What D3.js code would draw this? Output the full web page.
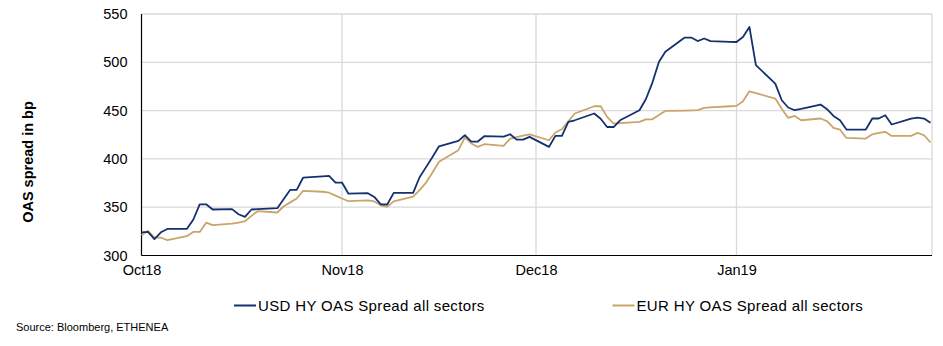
<!DOCTYPE html>
<html>
<head>
<meta charset="utf-8">
<script src="https://cdn.jsdelivr.net/npm/d3@7"></script>
<style>
  html, body { margin: 0; padding: 0; background: #fff; }
  svg { display: block; font-family: "Liberation Sans", Arial, sans-serif; }
</style>
</head>
<body>
<svg id="chart" width="943" height="346"></svg>
<script>
// ---------- data ----------
const dates = [
  "2018-10-01","2018-10-02","2018-10-03","2018-10-04","2018-10-05","2018-10-08","2018-10-09","2018-10-10","2018-10-11","2018-10-12",
  "2018-10-15","2018-10-16","2018-10-17","2018-10-18","2018-10-19","2018-10-22","2018-10-23","2018-10-24","2018-10-25","2018-10-26",
  "2018-10-29","2018-10-30","2018-10-31",
  "2018-11-01","2018-11-02","2018-11-05","2018-11-06","2018-11-07","2018-11-08","2018-11-09","2018-11-12","2018-11-13","2018-11-14",
  "2018-11-15","2018-11-16","2018-11-19","2018-11-20","2018-11-21","2018-11-22","2018-11-23","2018-11-26","2018-11-27","2018-11-28",
  "2018-11-29","2018-11-30",
  "2018-12-03","2018-12-04","2018-12-05","2018-12-06","2018-12-07","2018-12-10","2018-12-11","2018-12-12","2018-12-13","2018-12-14",
  "2018-12-17","2018-12-18","2018-12-19","2018-12-20","2018-12-21","2018-12-24","2018-12-25","2018-12-26","2018-12-27","2018-12-28",
  "2018-12-31",
  "2019-01-01","2019-01-02","2019-01-03","2019-01-04","2019-01-07","2019-01-08","2019-01-09","2019-01-10","2019-01-11","2019-01-14",
  "2019-01-15","2019-01-16","2019-01-17","2019-01-18","2019-01-21","2019-01-22","2019-01-23","2019-01-24","2019-01-25","2019-01-28",
  "2019-01-29","2019-01-30","2019-01-31"
];

const usdSpread = [
  324, 324.4, 317, 324, 327.5, 327.5, 337, 353, 353, 347.6,
  348, 342.7, 340, 347.6, 348, 349, 358.5, 368, 368, 380.7,
  382, 382.4, 375.5,
  375.5, 364, 364.5, 360.6, 353, 352.8, 364.8, 364.8, 381, 391.5,
  402, 413, 418.6, 424.5, 417.8, 418, 423.5, 423, 425.5, 420,
  420, 422.8,
  412.4, 423.8, 423.8, 438.3, 440, 447, 441.5, 433, 433, 440,
  450.4, 462, 479, 500.4, 511, 525.6, 525.6, 522, 524.6, 522,
  521.2,
  521, 526.2, 536.6, 497, 478, 460.7, 453.2, 450.4, 451.7, 456.3,
  451.4, 444.5, 440, 430.4, 430.4, 441.8, 441.8, 445.2, 435.6, 441.8,
  442.8, 441.8, 437.4
];

const eurSpread = [
  321, 325.5, 318.6, 318.6, 315.8, 320, 324.4, 324.4, 334, 331.4,
  333, 334, 335.5, 341, 346, 344.5, 351, 355, 359, 367,
  366, 365, 362,
  359, 356.2, 357, 356, 352, 350.3, 356, 361, 367.6, 375.5,
  386, 397, 409, 422, 416, 412.4, 415.2, 413.5, 421, 422.5,
  424, 425.5,
  419.3, 427.3, 430.7, 439, 447, 454.5, 454.5, 443.5, 436.6, 437,
  438.3, 441, 441, 445.5, 449.7, 450, 450.2, 450.4, 452.8, 453.3,
  454.5,
  454.9, 459.7, 470, 468, 462.5, 452, 442.4, 444.5, 440, 441.8,
  439, 432, 430.4, 421.7, 421, 425.5, 427, 428, 423.8, 423.8,
  426.9, 424.5, 417
];

const yTicks = [300, 350, 400, 450, 500, 550];
const xTicks = ["2018-10-01", "2018-11-01", "2018-12-01", "2019-01-01"];
const seriesNames = ["USD HY OAS Spread all sectors", "EUR HY OAS Spread all sectors"];
const seriesColors = ["#14306e", "#c9a46b"];
const yTitle = "OAS spread in bp";
const sourceText = "Source: Bloomberg, ETHENEA";

// ---------- layout ----------
const parse = d3.timeParse("%Y-%m-%d");
const svg = d3.select("#chart");
const plotL = 141.5, plotR = 930.5, plotT = 14, plotB = 255.5;

const x = d3.scaleTime()
  .domain([parse(dates[0]), parse(dates[dates.length - 1])])
  .range([plotL, plotR]);
const y = d3.scaleLinear().domain([300, 550]).range([plotB, plotT]);

// gridlines
const grid = svg.append("g");
grid.selectAll("line.h").data(yTicks.slice(1)).join("line")
  .attr("x1", plotL).attr("x2", plotR + 1.5)
  .attr("y1", d => y(d)).attr("y2", d => y(d))
  .attr("stroke", "#d9d9d9").attr("stroke-width", 1.3);
grid.selectAll("line.v").data(xTicks.slice(1)).join("line")
  .attr("x1", d => x(parse(d))).attr("x2", d => x(parse(d)))
  .attr("y1", plotT).attr("y2", plotB)
  .attr("stroke", "#d9d9d9").attr("stroke-width", 1.3);
grid.append("line")
  .attr("x1", plotR + 1.5).attr("x2", plotR + 1.5)
  .attr("y1", plotT).attr("y2", plotB)
  .attr("stroke", "#d9d9d9").attr("stroke-width", 1.3);

// axes
const yAxis = d3.axisLeft(y).tickValues(yTicks).tickSize(0).tickPadding(14);
const gy = svg.append("g").attr("transform", `translate(${plotL},0)`).call(yAxis);
gy.select(".domain").remove();
gy.selectAll("text").attr("font-size", 14.5).attr("fill", "#000")
  .attr("font-family", "'Liberation Sans', Arial, sans-serif");

const xAxis = d3.axisBottom(x).tickValues(xTicks.map(parse))
  .tickFormat(d3.timeFormat("%b%y")).tickSize(0).tickPadding(9);
const gx = svg.append("g").attr("transform", `translate(0,${plotB})`).call(xAxis);
gx.select(".domain").remove();
gx.selectAll("text").attr("font-size", 14.5).attr("fill", "#000")
  .attr("font-family", "'Liberation Sans', Arial, sans-serif");

// axis lines
svg.append("line").attr("x1", plotL).attr("x2", plotL).attr("y1", plotT).attr("y2", plotB)
  .attr("stroke", "#000").attr("stroke-width", 1.2);
svg.append("line").attr("x1", plotL).attr("x2", plotR + 1.5).attr("y1", plotB).attr("y2", plotB)
  .attr("stroke", "#000").attr("stroke-width", 1.2);

// lines
const series = [usdSpread, eurSpread];
const line = d3.line()
  .x((d, i) => x(parse(dates[i])))
  .y(d => y(d));
[1, 0].forEach(k => {
  svg.append("path")
    .datum(series[k])
    .attr("fill", "none")
    .attr("stroke", seriesColors[k])
    .attr("stroke-width", 1.8)
    .attr("stroke-linejoin", "round")
    .attr("d", line);
});

// y title
svg.append("text")
  .attr("transform", "translate(33,162) rotate(-90)")
  .attr("text-anchor", "middle")
  .attr("font-size", 14.5).attr("font-weight", "bold").attr("fill", "#000")
  .text(yTitle);

// legend
const legendX = [234, 612.5];
seriesNames.forEach((name, k) => {
  const g = svg.append("g").attr("transform", `translate(${legendX[k]},305.5)`);
  g.append("line").attr("x1", 0).attr("x2", 22).attr("y1", 0).attr("y2", 0)
    .attr("stroke", seriesColors[k]).attr("stroke-width", 2);
  g.append("text").attr("x", 24).attr("y", 5.5)
    .attr("font-size", 15).attr("letter-spacing", 0.35).attr("fill", "#000").text(name);
});

// source
svg.append("text").attr("x", 16).attr("y", 331)
  .attr("font-size", 11).attr("fill", "#000").text(sourceText);
</script>
</body>
</html>
